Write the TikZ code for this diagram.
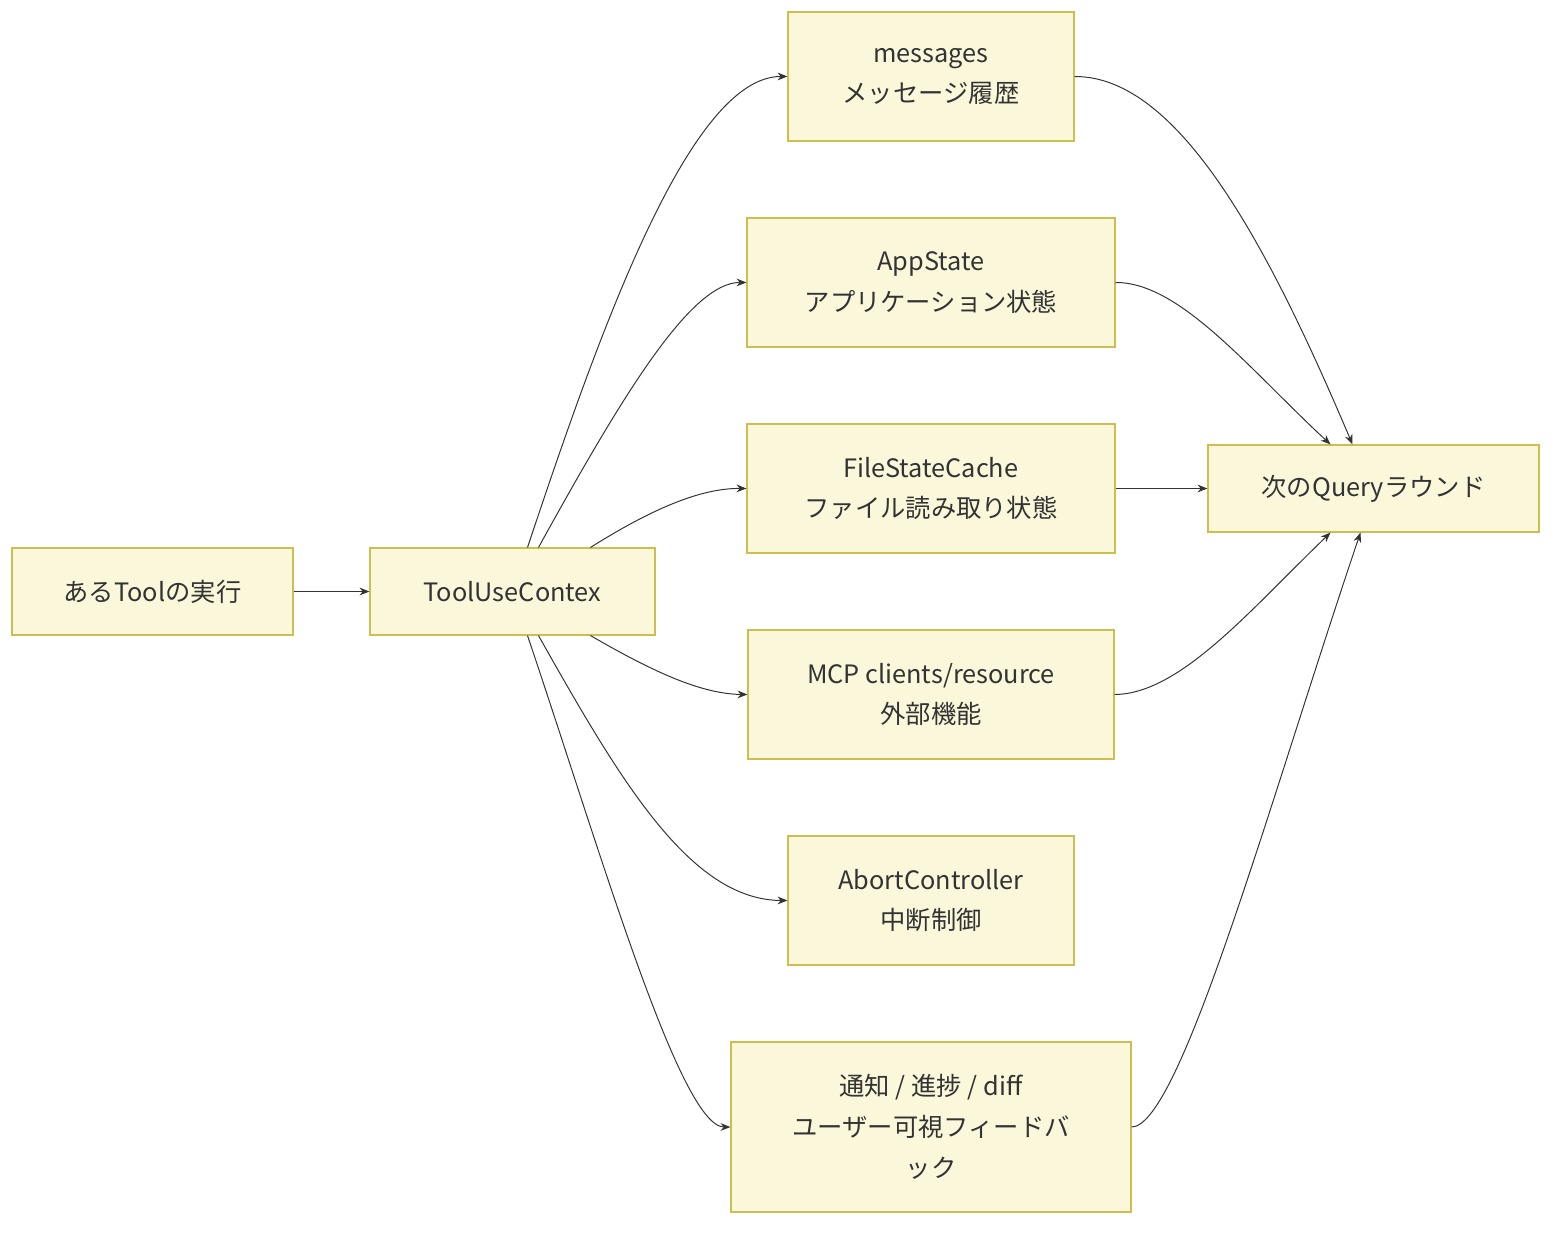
\documentclass[tikz,border=0pt]{standalone}
\usepackage{fontspec}
\setmainfont{Noto Sans CJK JP}
\usetikzlibrary{arrows.meta,calc}
\definecolor{bfill}{HTML}{FBF7DA}
\definecolor{bdraw}{HTML}{CDBF4F}
\definecolor{ln}{HTML}{333333}
\begin{document}
\begin{tikzpicture}[x=0.025cm,y=-0.025cm,
  box/.style={draw=bdraw,fill=bfill,line width=0.8pt,align=center,inner sep=0pt,
    font=\fontsize{18}{29}\selectfont,text=ln},
  arr/.style={draw=ln,line width=0.7pt,-{Stealth[length=7pt,width=5.5pt]}}]
\useasboundingbox (0,0) rectangle (1568,1238);
\node[box,minimum width=7.025cm,minimum height=2.175cm] (A) at (152.5,591.5) {あるToolの実行};
\node[box,minimum width=7.125cm,minimum height=2.175cm] (T) at (512.5,591.5) {ToolUseContex};
\node[box,minimum width=7.15cm,minimum height=3.225cm] (M) at (931,76.5) {messages\\メッセージ履歴};
\node[box,minimum width=9.2cm,minimum height=3.225cm] (P) at (931,282.5) {AppState\\アプリケーション状態};
\node[box,minimum width=9.2cm,minimum height=3.225cm] (F) at (931,488.5) {FileStateCache\\ファイル読み取り状態};
\node[box,minimum width=9.15cm,minimum height=3.225cm] (C) at (931,694.5) {MCP clients/resource\\外部機能};
\node[box,minimum width=7.15cm,minimum height=3.225cm] (B) at (931,900.5) {AbortController\\中断制御};
\node[box,minimum width=10cm,minimum height=4.25cm] (N) at (931,1127) {通知 / 進捗 / diff\\ユーザー可視フィードバ\\ック};
\node[box,minimum width=8.275cm,minimum height=2.175cm] (Q) at (1373.5,488.5) {次のQueryラウンド};
\draw[arr] (A) -- (T);
\draw[arr] ($(T.north)+(15,0)$) .. controls (600,330) and (690,76) .. (M.west);
\draw[arr] ($(T.north)+(26,0)$) .. controls (620,400) and (690,282) .. (P.west);
\draw[arr] ($(T.north)+(78,0)$) .. controls (650,510) and (700,488) .. (F.west);
\draw[arr] ($(T.south)+(78,0)$) .. controls (650,670) and (700,694) .. (C.west);
\draw[arr] ($(T.south)+(26,0)$) .. controls (620,780) and (690,900) .. (B.west);
\draw[arr] ($(T.south)+(15,0)$) .. controls (600,850) and (680,1127) .. (N.west);
\draw[arr] (M.east) .. controls (1180,76) and (1270,250) .. ($(Q.north)+(-21,0)$);
\draw[arr] (P.east) .. controls (1180,282) and (1250,370) .. ($(Q.north)+(-43,0)$);
\draw[arr] (F.east) -- (Q.west);
\draw[arr] (C.east) .. controls (1180,694) and (1250,610) .. ($(Q.south)+(-43,0)$);
\draw[arr] (N.east) .. controls (1180,1127) and (1270,800) .. ($(Q.south)+(-13,0)$);
\end{tikzpicture}
\end{document}
